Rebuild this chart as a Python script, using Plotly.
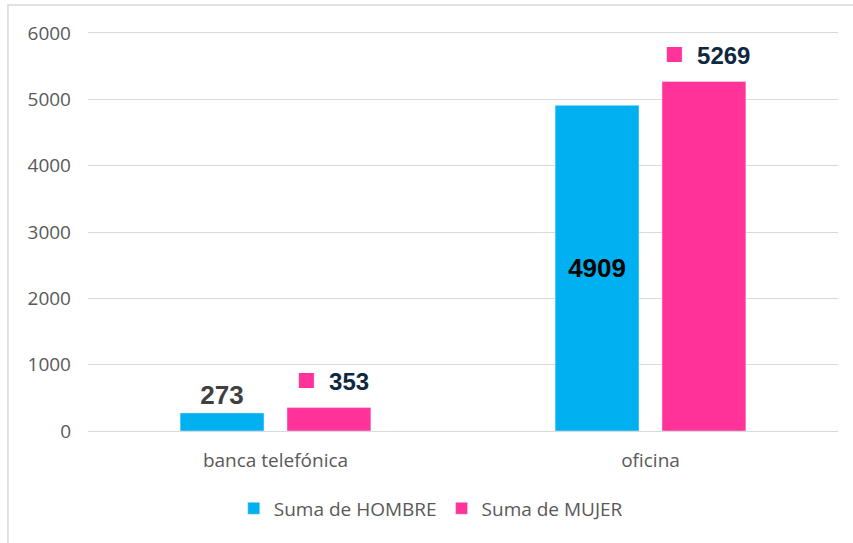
import plotly.graph_objects as go

categories = ["banca telefónica", "oficina"]
hombre = [273, 4909]
mujer = [353, 5269]
y_ticks = [0, 1000, 2000, 3000, 4000, 5000, 6000]

BLUE = "#00B0F0"
PINK = "#FF3399"
NAVY = "#0E2841"

fig = go.Figure()
fig.add_trace(go.Bar(
    name="Suma de HOMBRE", x=categories, y=hombre, marker_color=BLUE,
    text=[str(v) for v in hombre],
    textposition=["outside", "inside"],
    insidetextanchor="middle",
    textfont=dict(family="Liberation Sans", size=26, color=["#404040", "#000000"], weight="bold"),
    cliponaxis=False,
))
fig.add_trace(go.Bar(
    name="Suma de MUJER", x=categories, y=mujer, marker_color=PINK,
    cliponaxis=False,
))

for c, v in zip(categories, mujer):
    fig.add_annotation(
        x=c, y=v, xref="x", yref="y", xshift=57, yshift=28,
        text=f"<span style='color:{PINK};font-size:31px'>■</span>  {v}",
        showarrow=False, xanchor="center", yanchor="middle",
        font=dict(family="Liberation Sans", size=24, color=NAVY, weight="bold"),
    )

fig.update_layout(
    width=853, height=543,
    margin=dict(l=88, r=15, t=31, b=112),
    paper_bgcolor="white", plot_bgcolor="white",
    barmode="group", bargap=0.43, bargroupgap=0.215,
    font=dict(family="Open Sans", size=19, color="#595959"),
    showlegend=True,
    legend=dict(orientation="h", x=0.457, xanchor="center", y=-0.1935, yanchor="middle",
                font=dict(family="Open Sans", size=19, color="#595959"), itemwidth=30,
                traceorder="normal"),
    xaxis=dict(showgrid=False, showline=False, ticks="", ticklabelstandoff=16,
               tickfont=dict(family="Open Sans", size=19, color="#595959")),
    yaxis=dict(range=[0, 6030], tickvals=y_ticks, showgrid=True, gridcolor="#D9D9D9",
               gridwidth=1, zeroline=True, zerolinecolor="#D9D9D9", zerolinewidth=1,
               showline=False, ticks="", ticklabelstandoff=16,
               tickfont=dict(family="Open Sans", size=19, color="#595959")),
    shapes=[dict(type="rect", xref="paper", yref="paper", x0=-0.1067, x1=1.05,
                 y0=-0.32, y1=1.065, line=dict(color="#D9D9D9", width=1.5),
                 fillcolor="rgba(0,0,0,0)", layer="below")],
)

fig.write_html("out.html", config={"displayModeBar": False},
               post_script="document.body.style.margin='0px';")
